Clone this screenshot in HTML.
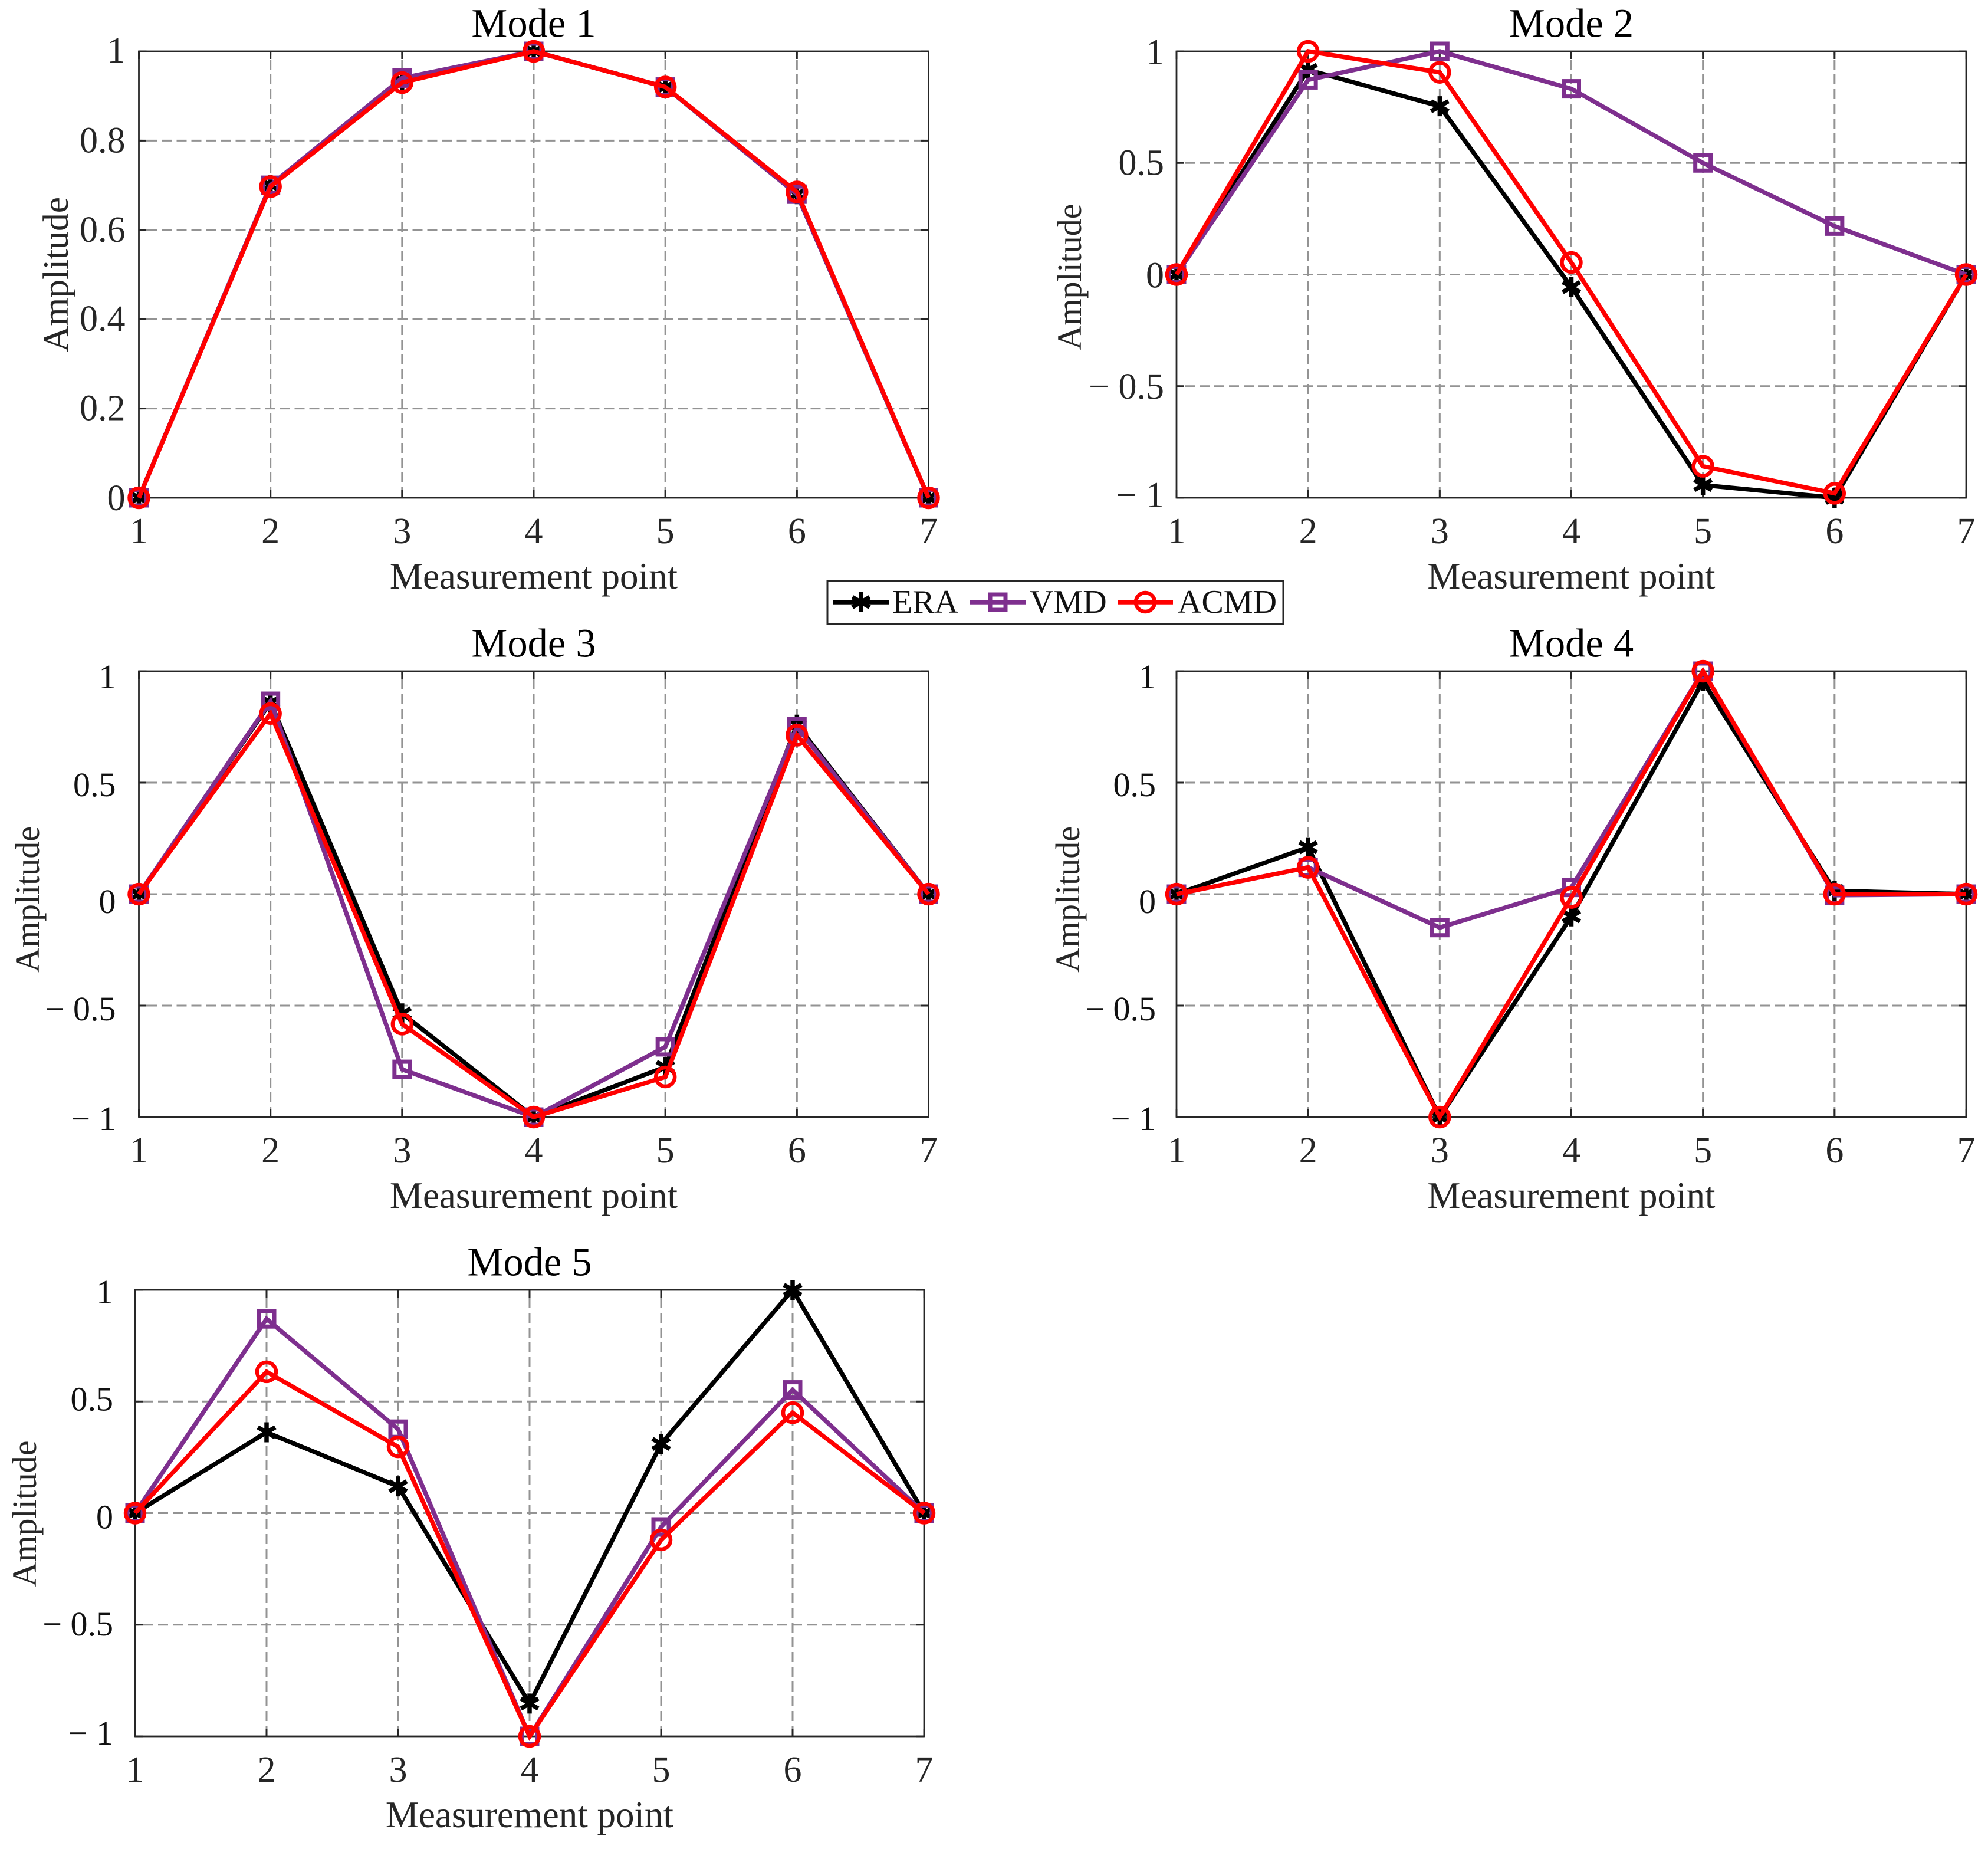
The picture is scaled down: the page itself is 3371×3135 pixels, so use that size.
<!DOCTYPE html>
<html lang="en">
<head>
<meta charset="utf-8">
<title>Mode shape comparison</title>
<style>
html,body{margin:0;padding:0;background:#fff;}
svg{display:block;}
text{font-family:"Liberation Serif","Times New Roman",serif;}
</style>
</head>
<body>
<svg id="figure" xmlns="http://www.w3.org/2000/svg" width="3371" height="3135" viewBox="0 0 3371 3135">
  <rect x="0" y="0" width="3371" height="3135" fill="#ffffff"/>
</svg>
<script>
// ---- chart data ----
const categories = [1, 2, 3, 4, 5, 6, 7];
const modeTitles = ['Mode 1', 'Mode 2', 'Mode 3', 'Mode 4', 'Mode 5'];
const seriesNames = ['ERA', 'VMD', 'ACMD'];
const xAxisTitle = 'Measurement point';
const yAxisTitle = 'Amplitude';

const mode1Ticks = [0, 0.2, 0.4, 0.6, 0.8, 1];
const mode1TickLabels = ['0', '0.2', '0.4', '0.6', '0.8', '1'];
const signedTicks = [-1, -0.5, 0, 0.5, 1];
const signedTickLabels = ['\u2212 1', '\u2212 0.5', '0', '0.5', '1'];

const eraMode1 = [0, 0.70, 0.935, 1, 0.92, 0.68, 0];
const vmdMode1 = [0, 0.70, 0.94, 1, 0.92, 0.68, 0];
const acmdMode1 = [0, 0.697, 0.93, 1, 0.92, 0.685, 0];

const eraMode2 = [0, 0.917, 0.754, -0.056, -0.943, -1, 0];
const vmdMode2 = [0, 0.872, 1, 0.832, 0.50, 0.217, 0];
const acmdMode2 = [0, 1, 0.906, 0.054, -0.859, -0.98, 0];

const eraMode3 = [0, 0.86, -0.535, -1, -0.775, 0.76, 0];
const vmdMode3 = [0, 0.865, -0.786, -1, -0.685, 0.75, 0];
const acmdMode3 = [0, 0.81, -0.583, -1, -0.82, 0.713, 0];

const eraMode4 = [0, 0.21, -1, -0.10, 0.955, 0.015, 0];
const vmdMode4 = [0, 0.12, -0.15, 0.03, 1, -0.005, 0];
const acmdMode4 = [0, 0.12, -1, -0.015, 1, 0, 0];

const eraMode5 = [0, 0.362, 0.12, -0.853, 0.31, 1, 0];
const vmdMode5 = [0, 0.87, 0.376, -1, -0.062, 0.552, 0];
const acmdMode5 = [0, 0.633, 0.297, -1, -0.12, 0.45, 0];

const eraValues = [eraMode1, eraMode2, eraMode3, eraMode4, eraMode5];
const vmdValues = [vmdMode1, vmdMode2, vmdMode3, vmdMode4, vmdMode5];
const acmdValues = [acmdMode1, acmdMode2, acmdMode3, acmdMode4, acmdMode5];

// ---- layout (pixels, not data) ----
const panelLayout = [
  {left: 235.5, right: 1574.5, top: 87, bottom: 844, labelGap: 23, labelFont: 62, ampFont: 61.5, ampX: 115, ampDy: 0, nudge: [2, 1, 1, 1, 1, 0]},
  {left: 1995, right: 3334, top: 87, bottom: 844, labelGap: 21, labelFont: 62, ampFont: 58, ampX: 1833, ampDy: 4, nudge: [-3, 2, 3, 1, 3]},
  {left: 235.5, right: 1574.5, top: 1138, bottom: 1894, labelGap: 39, labelFont: 58, ampFont: 58, ampX: 66, ampDy: 9, nudge: [3, 6, 13, 4, 10]},
  {left: 1995, right: 3334, top: 1138, bottom: 1894, labelGap: 35, labelFont: 58, ampFont: 58, ampX: 1830, ampDy: 9, nudge: [3, 6, 13, 4, 10]},
  {left: 229, right: 1567, top: 2187, bottom: 2944, labelGap: 37, labelFont: 58, ampFont: 58, ampX: 61, ampDy: 1, nudge: [-5, -1, 7, -4, 4]}
];

const NS = 'http://www.w3.org/2000/svg';
const svg = document.getElementById('figure');
const AXIS = '#262626';
const GRID = '#939393';
const COLORS = {ERA: '#000000', VMD: '#7e2f8e', ACMD: '#ff0000'};
const LINE_W = 7.5;

function mk(parent, tag, props, content) {
  const el = document.createElementNS(NS, tag);
  for (const k in props) el.setAttribute(k, props[k]);
  if (content !== undefined) el.textContent = content;
  parent.appendChild(el);
  return el;
}

function drawMarker(parent, kind, cx, cy) {
  if (kind === 'ERA') {
    const g = mk(parent, 'g', {stroke: COLORS.ERA, 'stroke-width': 7.5, fill: 'none'});
    
    
    mk(g, 'line', {x1: cx, y1: cy - 17, x2: cx, y2: cy + 17});
    mk(g, 'line', {x1: cx - 14.7, y1: cy - 8.5, x2: cx + 14.7, y2: cy + 8.5});
    mk(g, 'line', {x1: cx - 14.7, y1: cy + 8.5, x2: cx + 14.7, y2: cy - 8.5});
  } else if (kind === 'VMD') {
    const s = mk(parent, 'rect', {x: cx - 13, y: cy - 13, width: 26, height: 26, fill: 'none', stroke: COLORS.VMD, 'stroke-width': 7});
    
    
  } else {
    const c = mk(parent, 'circle', {cx: cx, cy: cy, r: 16, fill: 'none', stroke: COLORS.ACMD, 'stroke-width': 6.5});
    
    
  }
}

function drawPanel(index) {
  const box = panelLayout[index];
  const ticks = index === 0 ? mode1Ticks : signedTicks;
  const tickLabels = index === 0 ? mode1TickLabels : signedTickLabels;
  const yMin = ticks[0];
  const yMax = ticks[ticks.length - 1];
  const xScale = v => box.left + (v - categories[0]) / (categories[categories.length - 1] - categories[0]) * (box.right - box.left);
  const yScale = v => box.bottom - (v - yMin) / (yMax - yMin) * (box.bottom - box.top);

  const panel = mk(svg, 'g', {});
  
  

  // grid
  categories.forEach(c => {
    if (c === categories[0] || c === categories[categories.length - 1]) return;
    const gl = mk(panel, 'line', {x1: xScale(c), x2: xScale(c), y1: box.top, y2: box.bottom, stroke: GRID, 'stroke-width': 3, 'stroke-dasharray': '17 8', 'stroke-dashoffset': -14});
    
    
  });
  ticks.forEach(t => {
    if (t === yMin || t === yMax) return;
    const gl = mk(panel, 'line', {x1: box.left, x2: box.right, y1: yScale(t), y2: yScale(t), stroke: GRID, 'stroke-width': 3, 'stroke-dasharray': '17 8', 'stroke-dashoffset': -14});
    
    
  });

  // frame
  const frame = mk(panel, 'rect', {x: box.left, y: box.top, width: box.right - box.left, height: box.bottom - box.top, fill: 'none', stroke: AXIS, 'stroke-width': 2.8});
  
  

  // ticks and labels
  categories.forEach(c => {
    const x = xScale(c);
    const t1 = mk(panel, 'line', {x1: x, x2: x, y1: box.bottom, y2: box.bottom - 13, stroke: AXIS, 'stroke-width': 3});
    
    
    const t2 = mk(panel, 'line', {x1: x, x2: x, y1: box.top, y2: box.top + 13, stroke: AXIS, 'stroke-width': 3});
    
    
    const lbl = mk(panel, 'text', {x: x, y: box.bottom + 77, 'text-anchor': 'middle', 'font-size': 62, fill: AXIS}, String(c));
    
    
  });
  ticks.forEach((t, i) => {
    const y = yScale(t);
    const t1 = mk(panel, 'line', {x1: box.left, x2: box.left + 13, y1: y, y2: y, stroke: AXIS, 'stroke-width': 3});
    
    
    const t2 = mk(panel, 'line', {x1: box.right, x2: box.right - 13, y1: y, y2: y, stroke: AXIS, 'stroke-width': 3});
    
    
    const lbl = mk(panel, 'text', {x: box.left - box.labelGap, y: y + 19 + box.nudge[i], 'text-anchor': 'end', 'font-size': box.labelFont, fill: index < 2 ? AXIS : '#111111'}, tickLabels[i]);
    
    
  });

  // axis titles
  const midX = (box.left + box.right) / 2;
  const midY = (box.top + box.bottom) / 2 + box.ampDy;
  const title = mk(panel, 'text', {x: midX, y: box.top - 24.5, 'text-anchor': 'middle', 'font-size': 68.5, fill: '#000000'}, modeTitles[index]);
  
  
  const xt = mk(panel, 'text', {x: midX, y: box.bottom + 154, 'text-anchor': 'middle', 'font-size': 63, fill: AXIS}, xAxisTitle);
  
  
  const yt = mk(panel, 'text', {x: 0, y: 0, transform: 'translate(' + box.ampX + ',' + midY + ') rotate(-90)', 'text-anchor': 'middle', 'font-size': box.ampFont, fill: AXIS}, yAxisTitle);
  
  

  // series
  const allSeries = [eraValues[index], vmdValues[index], acmdValues[index]];
  allSeries.forEach((vals, s) => {
    const name = seriesNames[s];
    const group = mk(panel, 'g', {});
    
    
    const pts = vals.map((v, i) => xScale(categories[i]).toFixed(2) + ',' + yScale(v).toFixed(2)).join(' ');
    const line = mk(group, 'polyline', {points: pts, fill: 'none', stroke: COLORS[name], 'stroke-width': LINE_W, 'stroke-linejoin': 'miter'});
    
    
    vals.forEach((v, i) => drawMarker(group, name, xScale(categories[i]), yScale(v)));
  });
}

modeTitles.forEach((_, i) => drawPanel(i));

// ---- legend ----
const legendBox = {x: 1403, y: 984.5, w: 773, h: 73, lineY: 1021, baseline: 1039};
const legendSlots = [
  {lineStart: 1413, textX: 1513},
  {lineStart: 1645, textX: 1746},
  {lineStart: 1895, textX: 1997}
];
const legend = mk(svg, 'g', {});


const legendFrame = mk(legend, 'rect', {x: legendBox.x, y: legendBox.y, width: legendBox.w, height: legendBox.h, fill: '#ffffff', stroke: AXIS, 'stroke-width': 3});


seriesNames.forEach((name, i) => {
  const slot = legendSlots[i];
  const entry = mk(legend, 'g', {});
  
  
  const sample = mk(entry, 'line', {x1: slot.lineStart, x2: slot.lineStart + 94, y1: legendBox.lineY, y2: legendBox.lineY, stroke: COLORS[name], 'stroke-width': LINE_W});
  
  
  drawMarker(entry, name, slot.lineStart + 47, legendBox.lineY);
  const label = mk(entry, 'text', {x: slot.textX, y: legendBox.baseline, 'font-size': 56, fill: '#111111'}, name);
  
  
});
</script>
</body>
</html>
